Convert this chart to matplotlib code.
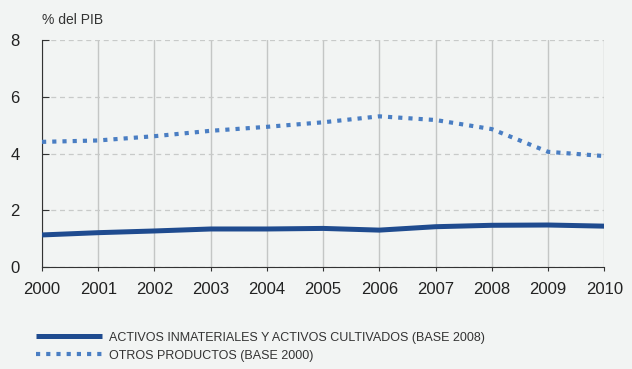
import matplotlib.pyplot as plt
from matplotlib import font_manager

# datos (% del PIB)
anios = [2000, 2001, 2002, 2003, 2004, 2005, 2006, 2007, 2008, 2009, 2010]
activos_inmat = [1.13, 1.21, 1.27, 1.34, 1.34, 1.36, 1.30, 1.42, 1.47, 1.48, 1.44]
otros_prod = [4.41, 4.46, 4.61, 4.80, 4.94, 5.10, 5.31, 5.18, 4.86, 4.06, 3.91]
etiquetas = ['ACTIVOS INMATERIALES Y ACTIVOS CULTIVADOS (BASE 2008)',
             'OTROS PRODUCTOS (BASE 2000)']

fondo = '#f2f4f3'
nombres = {f.name for f in font_manager.fontManager.ttflist}
narrow = 'Liberation Sans Narrow' if 'Liberation Sans Narrow' in nombres else 'Liberation Sans'
plt.rcParams['font.family'] = ['Liberation Sans', 'DejaVu Sans']

fig = plt.figure(figsize=(6.32, 3.69), dpi=100, facecolor=fondo)
ax = fig.add_axes([0.0665, 0.2764, 0.8895, 0.6152])
ax.set_facecolor(fondo)

l1, = ax.plot(anios, activos_inmat, color='#1f4b8f', lw=3.6, solid_capstyle='butt', zorder=3)
l2, = ax.plot(anios, otros_prod, color='#4a7ec3', lw=3.0, dashes=(1, 1.45), zorder=3)

ax.set_xlim(2000, 2010)
ax.set_ylim(0, 8)
ax.set_xticks(anios)
ax.set_yticks([0, 2, 4, 6, 8])

ax.grid(axis='x', color='#c4c6c5', lw=1.0, ls='-')
ax.grid(axis='y', color='#c8cac9', lw=0.9, ls=(0, (4, 3)))
ax.set_axisbelow(True)

for s in ['top', 'right']:
    ax.spines[s].set_visible(False)
ax.spines['left'].set_color('#333333')
ax.spines['bottom'].set_color('#333333')
ax.tick_params(axis='y', direction='in', length=5, color='#333333', labelsize=12,
               labelcolor='#222222', pad=16)
ax.tick_params(axis='x', direction='out', length=3, color='#333333', labelsize=12,
               labelcolor='#222222', pad=8)

fig.text(0.066, 0.945, '% del PIB', fontsize=10, color='#333333', va='center')

leg = fig.legend([l1, l2], etiquetas, loc='upper left', bbox_to_anchor=(0.049, 0.115),
                 frameon=False, handlelength=5.3, handletextpad=0.55, labelspacing=0.5,
                 prop={'family': narrow, 'size': 9}, borderaxespad=0)
for t in leg.get_texts():
    t.set_color('#333333')

fig.savefig('out.png', dpi=100, facecolor=fondo)
